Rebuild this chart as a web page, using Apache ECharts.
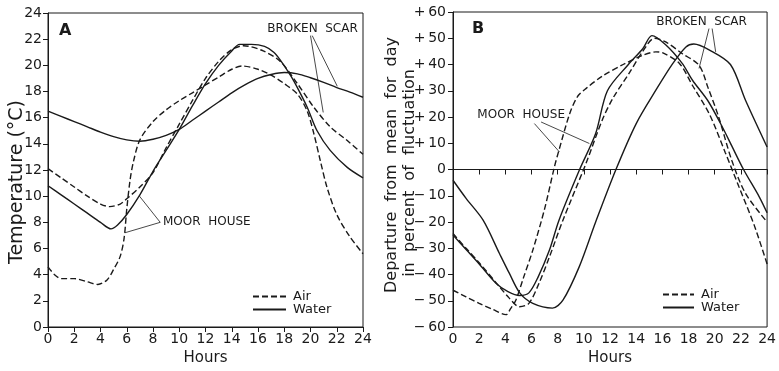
<!DOCTYPE html>
<html>
<head>
<meta charset="utf-8">
<script src="https://cdn.jsdelivr.net/npm/echarts@6/dist/echarts.min.js"></script>
<style>
  html, body { margin: 0; padding: 0; background: #fff; }
  #chart { width: 779px; height: 371px; }
</style>
</head>
<body>
<div id="chart"></div>
<script>
// --- data: [hour, value] ---
// A: temperature (°C)
const moorAirA = [[0,4.6],[0.5,4.0],[1,3.7],[2,3.7],[3,3.45],[3.8,3.25],[4.5,3.6],[5,4.4],[5.5,5.4],[5.8,6.8],[6,9.0],[6.25,11.2],[6.5,12.6],[7,14.3],[8,15.7],[9,16.6],[10,17.3],[11,17.9],[12,18.5],[13,19.1],[14,19.7],[14.8,19.95],[16,19.7],[17,19.25],[18,18.6],[19,17.8],[19.75,16.5],[20.25,14.8],[20.75,12.7],[21.25,10.7],[22,8.6],[23,6.9],[24,5.6]];
const moorWaterA = [[0,10.8],[1,10.1],[2,9.4],[3,8.7],[4,8.0],[4.8,7.5],[5.3,7.8],[6,8.6],[7,10.1],[8,11.9],[9,13.5],[10,15.1],[11,16.9],[12,18.6],[13,20.0],[14,21.1],[14.6,21.6],[15.5,21.6],[16.5,21.45],[17.2,21.0],[17.7,20.4],[18.5,19.2],[19,18.3],[19.75,16.8],[20.5,15.0],[21.5,13.5],[22.8,12.2],[24,11.4]];
const scarAirA = [[0,12.1],[1,11.4],[2,10.7],[3,10.0],[4,9.4],[4.7,9.2],[5.5,9.4],[6,9.8],[7,10.7],[8,11.8],[9,13.7],[10,15.5],[11,17.3],[12,19.0],[13,20.3],[14,21.2],[14.9,21.5],[16.4,21.1],[17.7,20.3],[19,18.6],[20.25,16.8],[21.5,15.3],[22.8,14.25],[24,13.2]];
const scarWaterA = [[0,16.5],[1,16.1],[2,15.7],[3,15.3],[4,14.9],[5,14.55],[6,14.3],[7,14.2],[8,14.35],[9,14.65],[10,15.1],[11,15.8],[12,16.5],[13,17.2],[14,17.9],[15,18.5],[16,19.0],[17,19.3],[18,19.45],[19,19.35],[20,19.05],[21,18.7],[22,18.3],[23,17.95],[24,17.56]];

// B: departure from daily mean, % of fluctuation
const moorAirB = [[0,-46],[1,-48.5],[2,-51],[3,-53.2],[4.05,-55.3],[4.4,-53],[4.8,-49.8],[5.4,-41],[6.1,-30.7],[7,-15],[7.75,1],[8.1,7.4],[8.9,21],[9.5,27.7],[10.2,31],[11.4,35.5],[13,40],[14.5,43.5],[15.5,44.8],[16,44.5],[17.3,40.4],[18.3,32],[19.6,21],[20.8,6.5],[21.85,-6.6],[23,-21],[24,-36]];
const moorWaterB = [[0,-25],[1,-30.5],[2,-36],[3.3,-43.4],[4.2,-46.5],[5.1,-48],[5.8,-47],[6.5,-41],[7.37,-30.7],[8.1,-19.3],[9.65,-0.3],[10.9,13.7],[11.8,30],[13.4,40],[14.5,46],[15.2,51],[16.25,47.5],[17.5,40.5],[18.3,34],[19.5,26],[20.6,16],[21.3,9],[22.2,0],[23.4,-10.4],[24,-16.5]];
const scarAirB = [[0,-24.4],[1,-30],[2,-35.5],[3.56,-44.7],[4.3,-49],[5.08,-52.3],[5.8,-51],[6.6,-43],[7.37,-33.3],[8.4,-19.3],[10.16,2.3],[11.4,18.8],[12.2,27],[13.5,37],[14.5,45],[15.4,50],[16.25,48.6],[17.5,44.2],[18.8,39.7],[19.5,31],[20.3,20],[21.3,3.5],[22.35,-9.1],[24,-20]];
const scarWaterB = [[0,-4.1],[1,-11],[2.3,-19.3],[3.55,-32],[4.3,-39.5],[5.1,-47],[6.1,-51],[7.6,-52.8],[8.4,-49.8],[9.65,-37],[10.9,-20],[12.45,0],[14,17.5],[15.5,30.2],[16.8,40.4],[17.8,46.7],[18.4,47.8],[19.6,45.5],[21.2,40],[22.35,26.4],[24,8.6]];

const hourTicks = { min: 0, max: 24, interval: 2 };
const tempTicks = { min: 0, max: 24, interval: 2 };
const depTicks = { min: -60, max: 60, interval: 10 };

// annotation leaders (data coords)
const scarLeadersA = [[[20.0, 22.27], [20.97, 16.4]], [[20.13, 22.27], [22.04, 18.4]]];
const moorLeadersA = [[[8.55, 8.0], [6.97, 10.0]], [[8.55, 8.0], [5.85, 7.2]]];
const moorLeadersB = [[[6.22, 17.5], [8.13, 6.7]], [[6.73, 18.1], [10.42, 9.9]]];
const scarLeadersB = [[[19.56, 53.7], [18.8, 38.5]], [[19.8, 53.7], [20.07, 44.8]]];

const INK = '#1a1a1a';
const FONT = 'DejaVu Sans';

function leaderLines(pairs) {
    return {
        silent: true,
        symbol: 'none',
        animation: false,
        label: { show: false },
        lineStyle: { color: INK, width: 0.8, type: 'solid' },
        data: pairs.map(p => [{ coord: p[0] }, { coord: p[1] }])
    };
}

function textMark(coord, text) {
    return {
        silent: true,
        symbol: 'rect',
        symbolSize: 1,
        itemStyle: { color: 'rgba(0,0,0,0)' },
        label: {
            show: true, position: 'inside', formatter: text,
            color: INK, fontFamily: FONT, fontSize: 12
        },
        data: [{ coord: coord }]
    };
}

function curve(name, data, dashed, gi) {
    return {
        name: name,
        type: 'line',
        xAxisIndex: gi,
        yAxisIndex: gi,
        data: data,
        symbol: 'none',
        smooth: 0.3,
        lineStyle: { color: INK, width: 1.4, type: dashed ? [6, 3] : 'solid' },
        itemStyle: { color: INK }
    };
}

function xAxisFor(gi) {
    return {
        type: 'value', gridIndex: gi,
        min: hourTicks.min, max: hourTicks.max, interval: hourTicks.interval,
        name: 'Hours', nameLocation: 'middle', nameGap: 23,
        nameTextStyle: { color: INK, fontFamily: FONT, fontSize: 15 },
        axisLine: { lineStyle: { color: INK, width: 1 } },
        axisTick: { show: true, length: 5, lineStyle: { color: INK } },
        axisLabel: { color: INK, fontFamily: FONT, fontSize: 14, margin: 5 },
        splitLine: { show: false }
    };
}

function legendAt(left, top, w) {
    return {
        data: ['Air', 'Water'], orient: 'vertical', left: left, top: top,
        padding: 0, itemWidth: w, itemHeight: 2, itemGap: 0, selectedMode: false,
        itemStyle: { color: 'rgba(0,0,0,0)', borderWidth: 0 },
        textStyle: { color: INK, fontFamily: FONT, fontSize: 13, lineHeight: 13, padding: [0, 0, 0, 2] }
    };
}

const chart = echarts.init(document.getElementById('chart'), null, { renderer: 'canvas' });

const seriesA = [
    curve('Air', moorAirA, true, 0),
    curve('Water', moorWaterA, false, 0),
    curve('Air', scarAirA, true, 0),
    curve('Water', scarWaterA, false, 0)
];
seriesA[0].markLine = leaderLines(moorLeadersA);
seriesA[0].markPoint = textMark([12.1, 8.0], 'MOOR  HOUSE');
seriesA[3].markLine = leaderLines(scarLeadersA);
seriesA[3].markPoint = textMark([20.15, 22.8], 'BROKEN  SCAR');

const seriesB = [
    curve('Air', moorAirB, true, 1),
    curve('Water', moorWaterB, false, 1),
    curve('Air', scarAirB, true, 1),
    curve('Water', scarWaterB, false, 1)
];
seriesB[0].markLine = leaderLines(moorLeadersB);
seriesB[0].markPoint = textMark([5.21, 20.95], 'MOOR  HOUSE');
seriesB[3].markLine = leaderLines(scarLeadersB);
seriesB[3].markPoint = textMark([18.99, 56.2], 'BROKEN  SCAR');
// zero line
seriesB[1].markLine = {
    silent: true, symbol: 'none', animation: false,
    label: { show: false },
    lineStyle: { color: INK, width: 1, type: 'solid' },
    data: [{ yAxis: 0 }]
};

chart.setOption({
    animation: false,
    backgroundColor: '#fff',
    textStyle: { fontFamily: FONT },
    grid: [
        { left: 48, top: 13, width: 315, height: 314, show: true, borderColor: INK, borderWidth: 1 },
        { left: 453, top: 12, width: 315, height: 315, show: true, borderColor: INK, borderWidth: 1 }
    ],
    legend: [legendAt(252, 290, 33), legendAt(662, 288, 31)],
    xAxis: [xAxisFor(0), xAxisFor(1)],
    yAxis: [
        {
            type: 'value', gridIndex: 0,
            min: tempTicks.min, max: tempTicks.max, interval: tempTicks.interval,
            axisLine: { show: true, lineStyle: { color: INK, width: 1 } },
            axisTick: { show: true, length: 5, lineStyle: { color: INK } },
            axisLabel: { color: INK, fontFamily: FONT, fontSize: 14, margin: 6 },
            splitLine: { show: false }
        },
        {
            type: 'value', gridIndex: 1,
            min: depTicks.min, max: depTicks.max, interval: depTicks.interval,
            axisLine: { show: true, lineStyle: { color: INK, width: 1 } },
            axisTick: { show: true, length: 5, lineStyle: { color: INK } },
            axisLabel: {
                color: INK, fontFamily: FONT, fontSize: 14, margin: 7,
                formatter: function (v) {
                    if (v > 0) return '+\u2009' + v;
                    if (v < 0) return '\u2212\u2009' + (-v);
                    return '0';
                }
            },
            splitLine: { show: false }
        }
    ],
    graphic: [
        { type: 'text', left: 59, top: 23, style: { text: 'A', fill: INK, font: 'bold 16px "DejaVu Sans"' } },
        { type: 'text', left: 472, top: 21, style: { text: 'B', fill: INK, font: 'bold 16px "DejaVu Sans"' } },
        {
            type: 'text', x: 17, y: 182, rotation: Math.PI / 2,
            style: { text: 'Temperature (°C)', fill: INK, font: '19px "DejaVu Sans"', align: 'center', verticalAlign: 'middle' }
        },
        {
            type: 'text', x: 392, y: 165, rotation: Math.PI / 2,
            style: { text: 'Departure  from  mean  for  day', fill: INK, font: '16px "DejaVu Sans"', align: 'center', verticalAlign: 'middle' }
        },
        {
            type: 'text', x: 410, y: 173, rotation: Math.PI / 2,
            style: { text: 'in  percent  of  fluctuation', fill: INK, font: '16px "DejaVu Sans"', align: 'center', verticalAlign: 'middle' }
        }
    ],
    series: seriesA.concat(seriesB)
});
</script>
</body>
</html>
